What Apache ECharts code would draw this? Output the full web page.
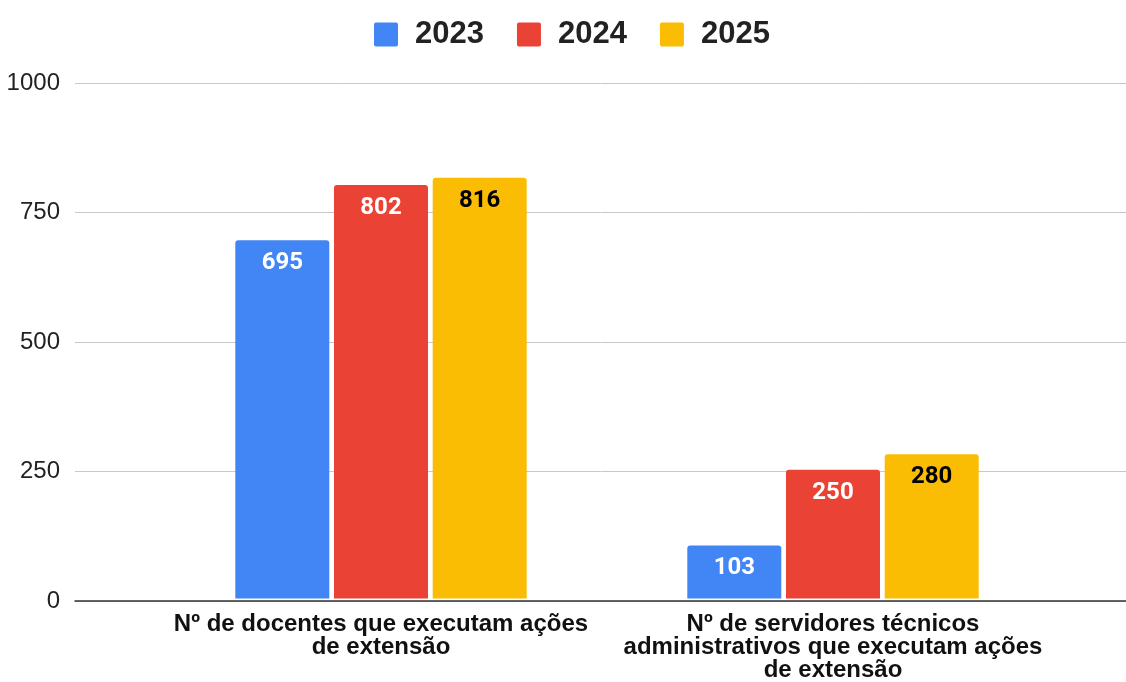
<!DOCTYPE html>
<html>
<head>
<meta charset="utf-8">
<script src="https://cdn.jsdelivr.net/npm/echarts@6/dist/echarts.min.js"></script>
<style>
  html, body { margin: 0; padding: 0; background: #fff; }
  #chart { width: 1126px; height: 682px; }
</style>
</head>
<body>
<div id="chart"></div>
<script>
// dados do gráfico
const categories = [
  'Nº de docentes que executam ações\nde extensão',
  'Nº de servidores técnicos\nadministrativos que executam ações\nde extensão'
]
const years = ['2023', '2024', '2025']
const values2023 = [695, 103]
const values2024 = [802, 250]
const values2025 = [816, 280]
const yTicks = [0, 250, 500, 750, 1000]

const colors = ['#4285F4', '#EA4335', '#FBBC04']
const labelColors = ['#ffffff', '#ffffff', '#000000']
const seriesValues = [values2023, values2024, values2025]

const chart = echarts.init(document.getElementById('chart'))

const option = {
  animation: false,
  color: colors,
  legend: {
    top: 19,
    left: 374,
    padding: 0,
    itemWidth: 24,
    itemHeight: 24,
    itemGap: 33,
    // quadrado com cantos levemente arredondados
    icon: 'path://M2,0H22A2,2,0,0,1,24,2V22A2,2,0,0,1,22,24H2A2,2,0,0,1,0,22V2A2,2,0,0,1,2,0Z',
    data: years,
    textStyle: {
      fontFamily: 'Liberation Sans, Arial, sans-serif',
      fontWeight: 'bold',
      fontSize: 31,
      color: '#222',
      padding: [0, 0, 0, 12]
    }
  },
  // grade 0: linhas de grade em toda a largura; grade 1: barras
  grid: [
    { left: 75, right: 0, top: 83, bottom: 81 },
    { left: 155, right: 67, top: 83, bottom: 81 }
  ],
  xAxis: [
    {
      type: 'category',
      gridIndex: 0,
      data: [''],
      axisLine: { show: true, lineStyle: { color: '#333', width: 1.5 } },
      axisTick: { show: false },
      axisLabel: { show: false }
    },
    {
      type: 'category',
      gridIndex: 1,
      data: categories,
      axisLine: { show: false },
      axisTick: { show: false },
      axisLabel: {
        margin: 14,
        fontFamily: 'Liberation Sans, Arial, sans-serif',
        fontWeight: 'bold',
        fontSize: 24,
        lineHeight: 23,
        color: '#111',
        align: 'center',
        interval: 0
      }
    }
  ],
  yAxis: [
    {
      type: 'value',
      gridIndex: 0,
      min: yTicks[0],
      max: yTicks[yTicks.length - 1],
      interval: 250,
      axisLine: { show: false },
      axisTick: { show: false },
      axisLabel: {
        margin: 15,
        fontFamily: 'Liberation Sans, Arial, sans-serif',
        fontSize: 24,
        color: '#222',
        formatter: v => String(v)
      },
      splitLine: { lineStyle: { color: '#c8c8c8', width: 1 } }
    },
    {
      type: 'value',
      gridIndex: 1,
      min: yTicks[0],
      max: yTicks[yTicks.length - 1],
      show: false,
      splitLine: { show: false }
    }
  ],
  series: years.map((y, i) => ({
    name: y,
    type: 'bar',
    xAxisIndex: 1,
    yAxisIndex: 1,
    barWidth: 94,
    barGap: '5%',
    data: seriesValues[i],
    itemStyle: { color: colors[i], borderRadius: [3, 3, 0, 0] },
    label: {
      show: true,
      position: 'insideTop',
      distance: 11,
      fontFamily: 'Roboto, sans-serif',
      fontWeight: 'bold',
      fontSize: 24,
      color: labelColors[i]
    }
  }))
}

chart.setOption(option)
window.addEventListener('resize', () => chart.resize())
</script>
</body>
</html>
